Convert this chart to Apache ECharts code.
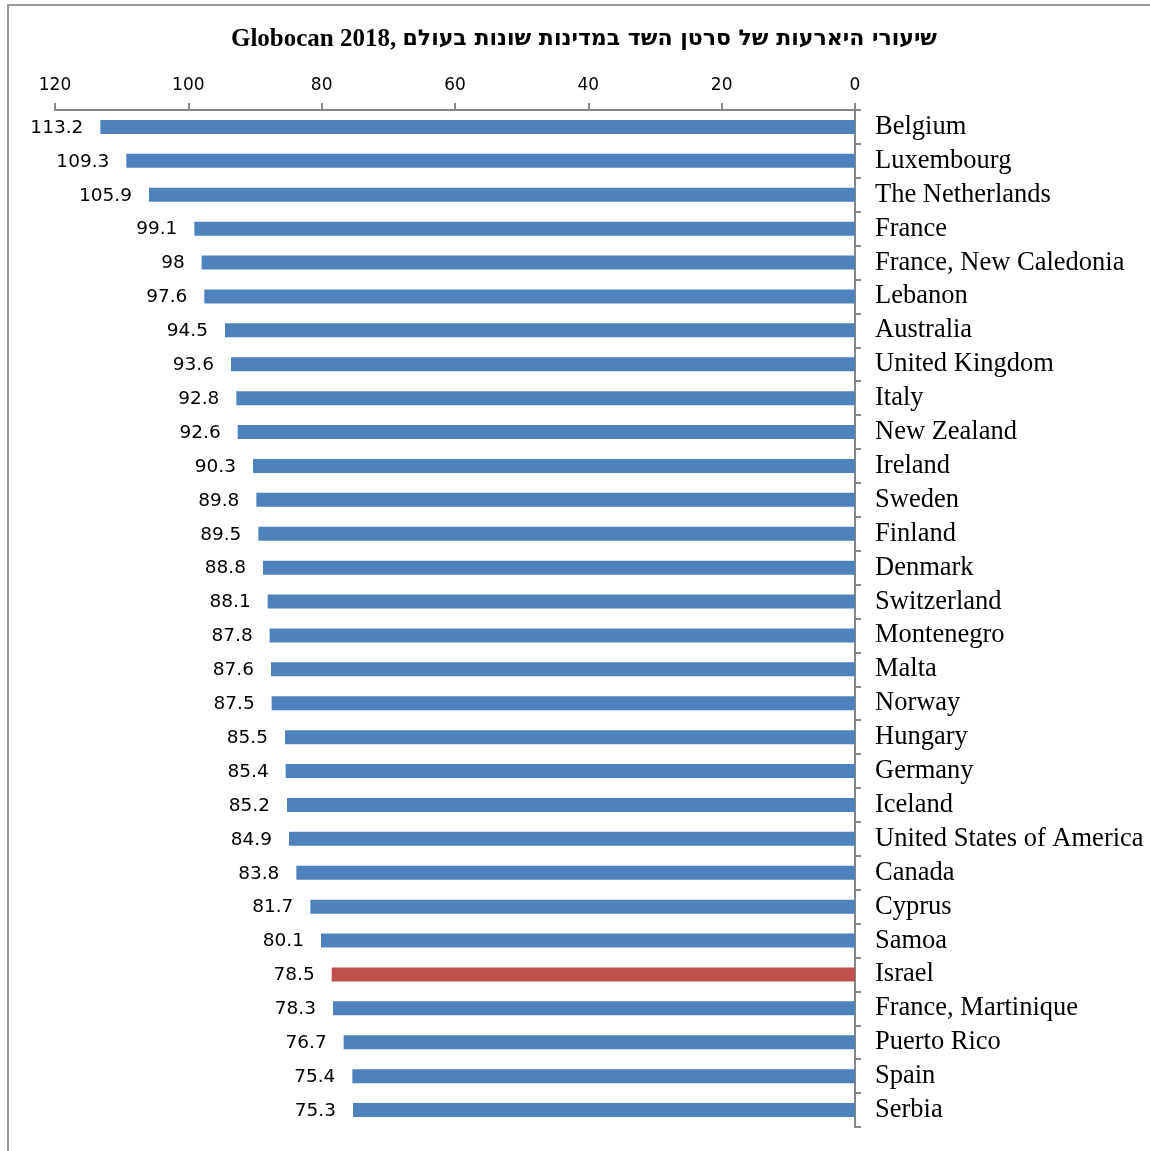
<!DOCTYPE html>
<html>
<head>
<meta charset="utf-8">
<script src="https://cdn.jsdelivr.net/npm/echarts@6/dist/echarts.min.js"></script>
<style>
html,body{margin:0;padding:0;background:#fff;}
#chart{position:absolute;left:0;top:0;width:1150px;height:1151px;}
#frame{position:absolute;left:7px;top:4px;width:1150px;height:1160px;border-left:2px solid #9a9a9a;border-top:2px solid #9a9a9a;pointer-events:none;}
</style>
</head>
<body>
<div id="chart"></div>
<div id="frame"></div>
<script>
const titleLatin = 'Globocan 2018, ';
const titleHebrew = 'שיעורי היארעות של סרטן השד במדינות שונות בעולם';
const countries = ['Belgium','Luxembourg','The Netherlands','France','France, New Caledonia','Lebanon','Australia','United Kingdom','Italy','New Zealand','Ireland','Sweden','Finland','Denmark','Switzerland','Montenegro','Malta','Norway','Hungary','Germany','Iceland','United States of America','Canada','Cyprus','Samoa','Israel','France, Martinique','Puerto Rico','Spain','Serbia'];
const rates = [113.2,109.3,105.9,99.1,98,97.6,94.5,93.6,92.8,92.6,90.3,89.8,89.5,88.8,88.1,87.8,87.6,87.5,85.5,85.4,85.2,84.9,83.8,81.7,80.1,78.5,78.3,76.7,75.4,75.3];
const highlight = 'Israel';
const blue = '#4F81BD', red = '#C0504D';

const chart = echarts.init(document.getElementById('chart'), null, {renderer:'canvas'});
chart.setOption({
  animation:false,
  backgroundColor:'#fff',
  title:{
    text:'{a|' + titleLatin + '}{b|' + titleHebrew + '}', left:579, top:22, textAlign:'center',
    textStyle:{
      rich:{
        a:{fontFamily:'Liberation Serif', fontWeight:'bold', fontSize:25, color:'#000'},
        b:{fontFamily:'DejaVu Sans', fontWeight:'bold', fontSize:22, color:'#000'}
      }
    }
  },
  grid:{left:55, right:295, top:110, bottom:24, containLabel:false},
  xAxis:{
    type:'value', position:'top', inverse:true, min:0, max:120, interval:20,
    axisLine:{show:true, lineStyle:{color:'#868686', width:2}},
    axisTick:{show:true, length:7, lineStyle:{color:'#868686', width:2}},
    splitLine:{show:false},
    axisLabel:{margin:16, fontFamily:'DejaVu Sans', fontSize:17, color:'#000'}
  },
  yAxis:{
    type:'category', position:'right', inverse:true, data:countries,
    axisLine:{show:true, lineStyle:{color:'#868686', width:2}},
    axisTick:{show:true, interval:0, length:6, lineStyle:{color:'#868686', width:2}},
    axisLabel:{interval:0, margin:20, fontFamily:'Liberation Serif', fontSize:26.5, color:'#000'}
  },
  series:[{
    type:'bar', barWidth:14,
    data: rates.map((v,i)=>({value:v, itemStyle:{color: countries[i]===highlight ? red : blue}})),
    label:{show:true, position:'left', distance:17, fontFamily:'DejaVu Sans', fontSize:18.5, color:'#000', offset:[0,1]}
  }]
});
</script>
</body>
</html>
